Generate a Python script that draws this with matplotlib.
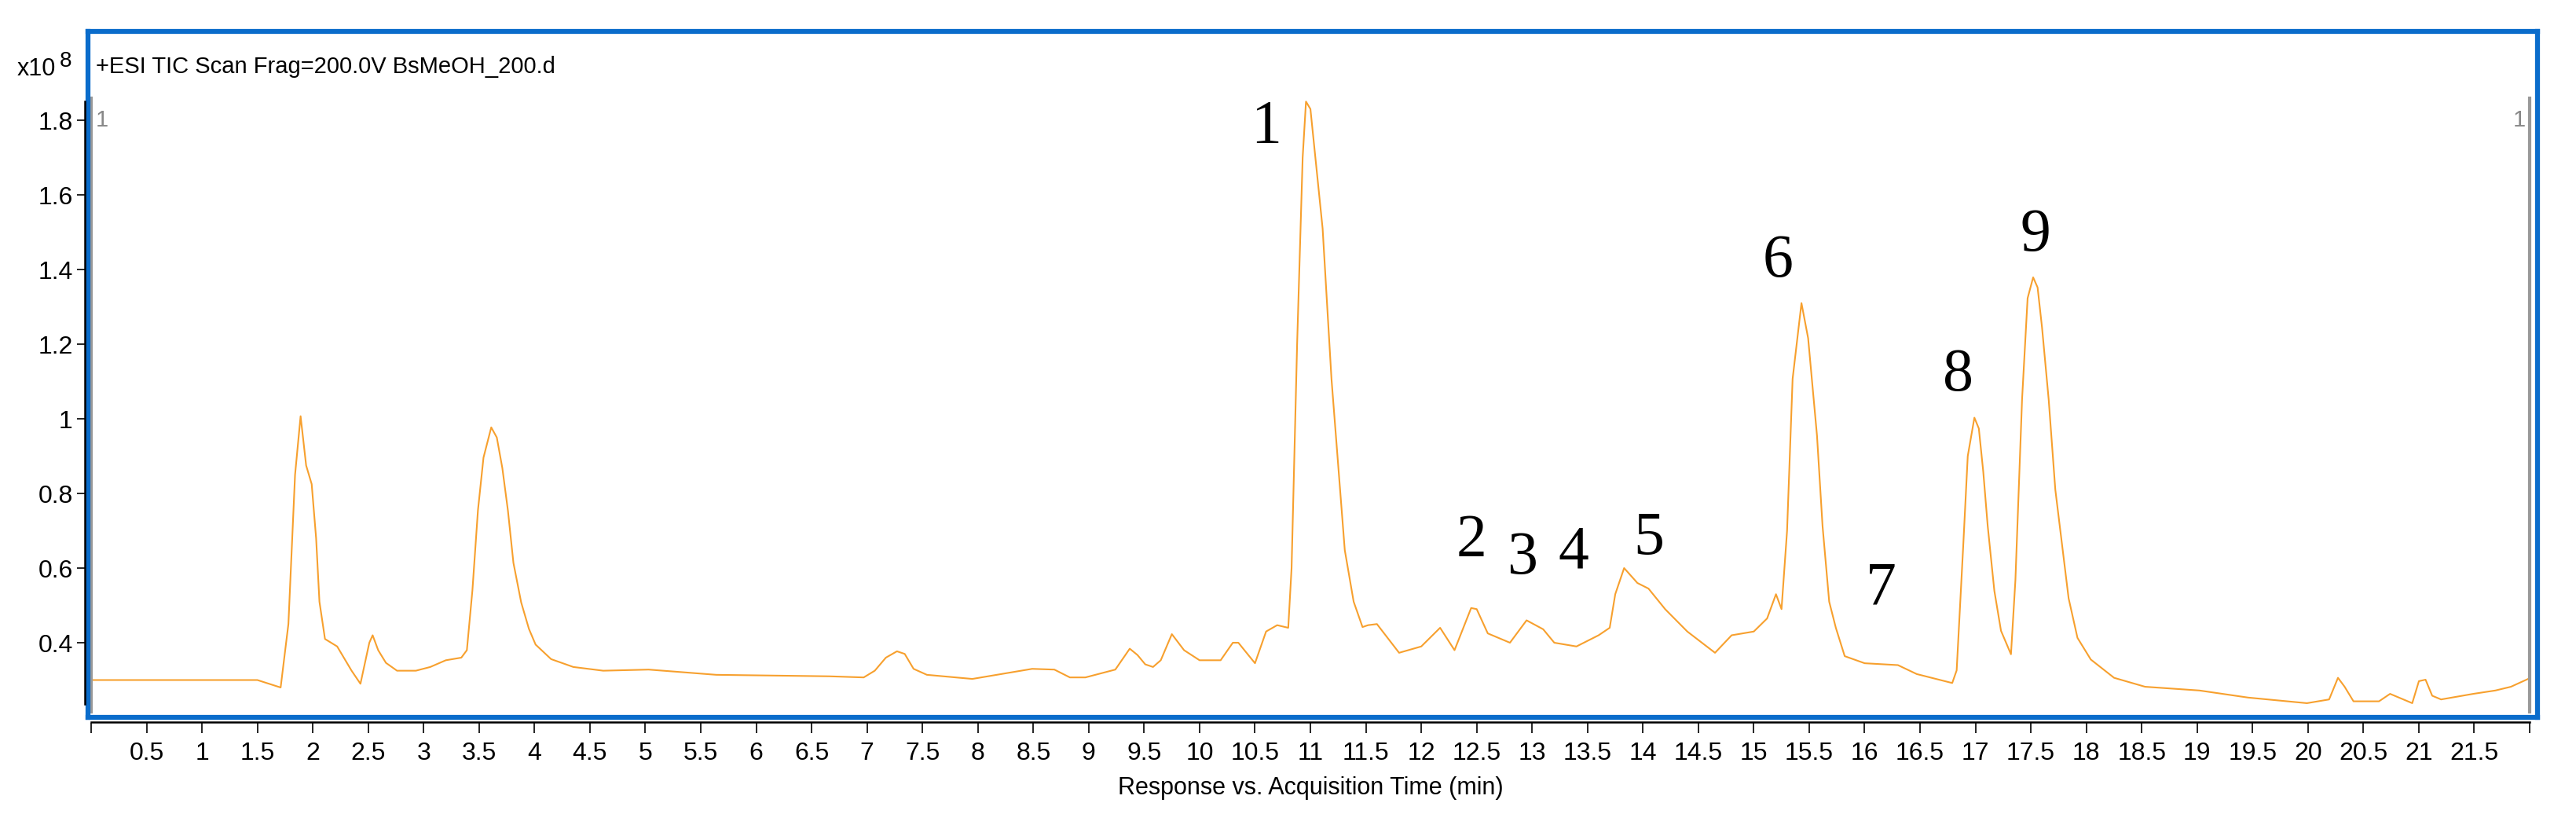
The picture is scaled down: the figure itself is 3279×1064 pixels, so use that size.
import matplotlib
matplotlib.use("Agg")
import matplotlib.pyplot as plt

time_min = [0.0, 0.5, 1.0, 1.5, 1.71, 1.78, 1.84, 1.89, 1.94, 1.99, 2.03, 2.06, 2.11, 2.22, 2.28, 2.35, 2.43, 2.51, 2.54, 2.59,
            2.66, 2.76, 2.93, 3.06, 3.2, 3.34, 3.39, 3.44, 3.49, 3.54, 3.61, 3.66, 3.71, 3.76, 3.81, 3.88, 3.95, 4.01, 4.15, 4.35,
            4.62, 5.03, 5.64, 6.66, 6.97, 7.07, 7.17, 7.27, 7.34, 7.42, 7.54, 7.95, 8.29, 8.49, 8.69, 8.83, 8.97, 9.24, 9.37, 9.44,
            9.51, 9.58, 9.65, 9.75, 9.86, 10.0, 10.19, 10.3, 10.35, 10.5, 10.6, 10.7, 10.8, 10.83, 10.88, 10.93, 10.96, 11.0, 11.11, 11.19,
            11.25, 11.31, 11.39, 11.47, 11.52, 11.6, 11.8, 12.0, 12.17, 12.3, 12.45, 12.5, 12.6, 12.8, 12.95, 13.1, 13.2, 13.4, 13.6, 13.7,
            13.75, 13.83, 13.95, 14.05, 14.2, 14.4, 14.65, 14.8, 15.0, 15.12, 15.2, 15.25, 15.3, 15.35, 15.43, 15.49, 15.57, 15.62, 15.68, 15.74,
            15.82, 16.0, 16.3, 16.47, 16.79, 16.83, 16.89, 16.93, 16.99, 17.03, 17.07, 17.11, 17.17, 17.23, 17.32, 17.36, 17.42, 17.47, 17.52, 17.56,
            17.6, 17.66, 17.72, 17.78, 17.84, 17.92, 18.04, 18.25, 18.53, 19.02, 19.46, 19.99, 20.19, 20.27, 20.33, 20.41, 20.64, 20.74, 20.94, 21.0,
            21.06, 21.12, 21.2, 21.49, 21.69, 21.83, 22.0]
tic_e8 = [0.30, 0.30, 0.30, 0.30, 0.28, 0.45, 0.85, 1.007, 0.875, 0.825, 0.68, 0.51, 0.41, 0.39, 0.36, 0.325, 0.29, 0.40, 0.42, 0.38,
          0.346, 0.325, 0.325, 0.335, 0.353, 0.36, 0.38, 0.54, 0.755, 0.896, 0.977, 0.95, 0.868, 0.755, 0.614, 0.508, 0.437, 0.395, 0.356, 0.335,
          0.325, 0.328, 0.314, 0.31, 0.307, 0.325, 0.36, 0.377, 0.37, 0.33, 0.314, 0.303, 0.32, 0.33, 0.328, 0.307, 0.307, 0.328, 0.384, 0.367,
          0.342, 0.335, 0.353, 0.423, 0.38, 0.353, 0.353, 0.40, 0.40, 0.345, 0.43, 0.447, 0.44, 0.60, 1.20, 1.70, 1.85, 1.83, 1.51, 1.107,
          0.877, 0.648, 0.51, 0.442, 0.447, 0.45, 0.373, 0.39, 0.44, 0.38, 0.493, 0.49, 0.425, 0.40, 0.46, 0.436, 0.40, 0.39, 0.42, 0.44,
          0.53, 0.60, 0.56, 0.545, 0.49, 0.43, 0.373, 0.42, 0.43, 0.465, 0.53, 0.49, 0.70, 1.107, 1.31, 1.216, 0.955, 0.713, 0.51, 0.44,
          0.364, 0.345, 0.34, 0.316, 0.292, 0.326, 0.664, 0.90, 1.003, 0.974, 0.858, 0.713, 0.539, 0.432, 0.369, 0.568, 1.052, 1.323, 1.379, 1.352,
          1.245, 1.052, 0.81, 0.664, 0.519, 0.413, 0.355, 0.306, 0.282, 0.272, 0.253, 0.238, 0.248, 0.306, 0.282, 0.243, 0.243, 0.263, 0.238, 0.297,
          0.301, 0.258, 0.248, 0.263, 0.272, 0.282, 0.305]
peak_labels = ["1", "2", "3", "4", "5", "6", "7", "8", "9"]
peak_x = [10.60, 12.45, 12.91, 13.37, 14.05, 15.22, 16.15, 16.84, 17.54]
peak_y = [1.78, 0.67, 0.625, 0.64, 0.677, 1.42, 0.543, 1.115, 1.49]
x_ticks = [i * 0.5 for i in range(45)]
y_ticks = [0.4, 0.6, 0.8, 1.0, 1.2, 1.4, 1.6, 1.8]

FW, FH = 3280, 1064
fig = plt.figure(figsize=(32.8, 10.64), dpi=100)
sans = dict(family=["Liberation Sans", "DejaVu Sans"])

def fx(px): return px / FW
def fy(py): return 1 - py / FH

TOPPX, BOTPX = 40, 913
XMIN, XMAX = -0.028, 22.07
YMIN = 0.20
YMAX = 1.8 + (153 - TOPPX) / 475
ax = fig.add_axes([fx(112), fy(BOTPX), fx(3230) - fx(112), fy(TOPPX) - fy(BOTPX)])
ax.plot(time_min, tic_e8, color="#F7A02E", lw=1.5)
ax.set_xlim(XMIN, XMAX)
ax.set_ylim(YMIN, YMAX)
ax.set_xticks([]); ax.set_yticks([])
for s in ax.spines.values():
    s.set_color("#0A6CCB"); s.set_linewidth(4.5)
ax.plot([0.0, 0.0], [0.215, 1.86], color="#999999", lw=3)
ax.plot([22.0, 22.0], [0.215, 1.86], color="#999999", lw=3)
ax.text(0.04, 1.80, "1", color="#888888", fontsize=21, **sans, va="center")
ax.text(21.96, 1.80, "1", color="#888888", fontsize=21, **sans, va="center", ha="right")
ax.text(fx(122), fy(85), "+ESI TIC Scan Frag=200.0V BsMeOH_200.d", transform=fig.transFigure,
        fontsize=21, **sans, va="center")
for lab, px, py in zip(peak_labels, peak_x, peak_y):
    ax.text(px, py, lab, fontsize=56, family=["Liberation Serif", "DejaVu Serif"], ha="center", va="center")

X0, X22 = 116, 3220
axx = fig.add_axes([fx(X0), fy(920), fx(X22) - fx(X0), 0.0005])
axx.set_xlim(0, 22)
axx.set_yticks([])
for k in ["left", "right", "bottom"]:
    axx.spines[k].set_visible(False)
axx.spines["top"].set_linewidth(1.8)
axx.patch.set_visible(False)
axx.xaxis.set_ticks_position("bottom")
axx.set_xticks(x_ticks)
axx.set_xticklabels(["" if (v == 0 or v == 22) else f"{v:g}" for v in x_ticks], **sans)
axx.tick_params(axis="x", direction="out", length=9, width=1.2, pad=8, labelsize=23)
axx.set_xlabel("Response vs. Acquisition Time (min)", fontsize=22, labelpad=10, **sans)

axy = fig.add_axes([fx(108), fy(BOTPX), 0.0005, fy(TOPPX) - fy(BOTPX)])
axy.set_ylim(YMIN, YMAX)
axy.set_xticks([])
for k in ["top", "right", "bottom"]:
    axy.spines[k].set_visible(False)
axy.spines["left"].set_linewidth(1.8)
axy.spines["left"].set_bounds(0.235, 1.85)
axy.set_yticks(y_ticks)
axy.set_yticklabels([f"{v:g}" for v in y_ticks], **sans)
axy.tick_params(axis="y", direction="out", length=7, width=1.2, pad=4, labelsize=23)
axy.patch.set_visible(False)

fig.text(fx(22), fy(88), "x10", fontsize=22, **sans, va="center")
fig.text(fx(76), fy(78), "8", fontsize=20, **sans, va="center")

fig.savefig("out.png", dpi=100)
